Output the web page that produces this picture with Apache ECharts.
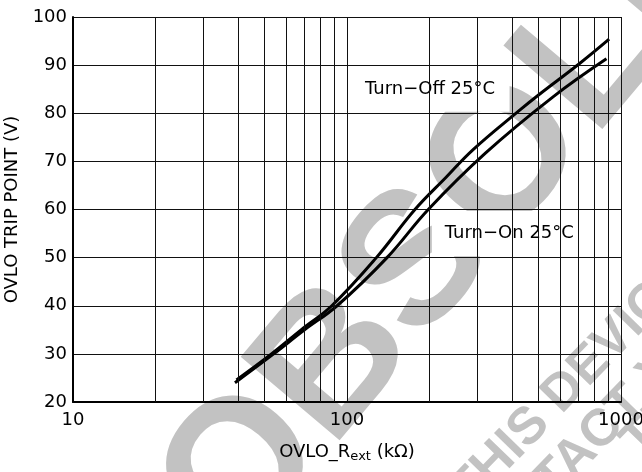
<!DOCTYPE html>
<html>
<head>
<meta charset="utf-8">
<script src="https://cdn.jsdelivr.net/npm/echarts@6/dist/echarts.min.js"></script>
<style>
  html, body { margin: 0; padding: 0; background: #fff; }
  #chart { width: 642px; height: 472px; }
</style>
</head>
<body>
<div id="chart"></div>
<script>
// Turn-Off 25°C curve (R in kOhm, trip point in V)
const offR = [39.5, 53, 68, 88, 128, 177, 230, 288, 428, 500, 708, 905];
const offV = [24.6, 30, 35, 40, 50, 60, 66.7, 72.4, 80.7, 83.8, 90.4, 95.4];
// Turn-On 25°C curve
const onR = [39, 54, 70, 92, 140, 198, 320, 565, 885];
const onV = [24, 30, 35, 40, 50, 60, 71.7, 83.4, 91.3];
// log grid lines between the decades
const minorX = [20, 30, 40, 50, 60, 70, 80, 90, 200, 300, 400, 500, 600, 700, 800, 900];

const font = 'DejaVu Sans';
const gray = '#c2c2c2';
const wmFont = '"Liberation Sans"';

const pairs = (xs, ys) => xs.map((x, i) => [x, ys[i]]);

const chart = echarts.init(document.getElementById('chart'), null, { renderer: 'canvas' });

chart.setOption({
  animation: false,
  backgroundColor: '#fff',
  grid: { left: 73, right: 21, top: 17, bottom: 70, outerBoundsMode: 'none' },
  graphic: [
    // OBSOLETE watermark sits under the grid
    {
      type: 'text', z: -10, x: 531, y: 133, rotation: 0.87,
      style: { text: 'OBSOLETE', font: 'bold 188px ' + wmFont, fill: gray, align: 'center', verticalAlign: 'middle' }
    },
    {
      type: 'text', z: -10, x: 440, y: 482, rotation: 0.8,
      style: { text: 'THIS DEVICE IS NOT RECOMMENDED FOR NEW DESIGN', font: 'bold 52px ' + wmFont, fill: gray }
    },
    {
      type: 'text', z: -10, x: 289, y: 715, rotation: 0.8,
      style: { text: 'PLEASE CONTACT YOUR REPRESENTATIVE', font: 'bold 52px ' + wmFont, fill: gray }
    },
    {
      type: 'text', z: -10, x: 612, y: 432, rotation: 0.8,
      style: { text: 'THE MOST RECENT', font: 'bold 52px ' + wmFont, fill: gray }
    }
  ],
  xAxis: {
    type: 'log',
    logBase: 10,
    min: 10,
    max: 1000,
    name: 'OVLO_R{sub|ext} (kΩ)',
    nameLocation: 'middle',
    nameGap: 40,
    nameTextStyle: {
      fontFamily: font, fontSize: 18, color: '#000',
      rich: { sub: { fontFamily: font, fontSize: 13, color: '#000', verticalAlign: 'bottom', padding: [8, 0, 0, 0] } }
    },
    axisLine: { show: true, lineStyle: { color: '#000', width: 2 } },
    axisTick: { show: false },
    axisLabel: { fontFamily: font, fontSize: 18, color: '#000', margin: 9, formatter: v => String(v) },
    splitLine: { show: true, lineStyle: { color: '#111', width: 1 } }
  },
  yAxis: {
    type: 'value',
    min: 20,
    max: 100,
    interval: 10,
    name: 'OVLO TRIP POINT (V)',
    nameLocation: 'middle',
    nameGap: 50,
    nameTextStyle: { fontFamily: font, fontSize: 18, color: '#000' },
    axisLine: { show: true, lineStyle: { color: '#000', width: 2 } },
    axisTick: { show: false },
    axisLabel: { fontFamily: font, fontSize: 18, color: '#000', margin: 6 },
    splitLine: { show: true, lineStyle: { color: '#111', width: 1 } }
  },
  series: [
    {
      name: 'grid',
      type: 'line',
      data: [],
      z: 1,
      silent: true,
      markLine: {
        silent: true,
        symbol: 'none',
        label: { show: false },
        lineStyle: { color: '#111', width: 1, type: 'solid' },
        data: minorX.map(v => ({ xAxis: v }))
      }
    },
    {
      name: 'labels',
      type: 'line',
      data: [],
      z: 1.5,
      silent: true,
      markArea: {
        silent: true,
        itemStyle: { color: '#fff', opacity: 1 },
        label: { show: true, position: 'inside', color: '#000', fontFamily: font, fontSize: 18 },
        data: [
          [{ coord: [103, 80.3], name: 'Turn−Off 25°C' }, { coord: [392, 89.7] }],
          [{ coord: [204, 50.3], name: 'Turn−On 25°C', label: { position: 'insideLeft', distance: 13 } }, { coord: [885, 59.7] }]
        ]
      }
    },
    {
      name: 'Turn-Off 25°C',
      type: 'line',
      z: 3,
      smooth: 0.4,
      symbol: 'none',
      lineStyle: { color: '#000', width: 3 },
      data: pairs(offR, offV)
    },
    {
      name: 'Turn-On 25°C',
      type: 'line',
      z: 3,
      smooth: 0.4,
      symbol: 'none',
      lineStyle: { color: '#000', width: 3 },
      data: pairs(onR, onV)
    }
  ]
});
</script>
</body>
</html>
